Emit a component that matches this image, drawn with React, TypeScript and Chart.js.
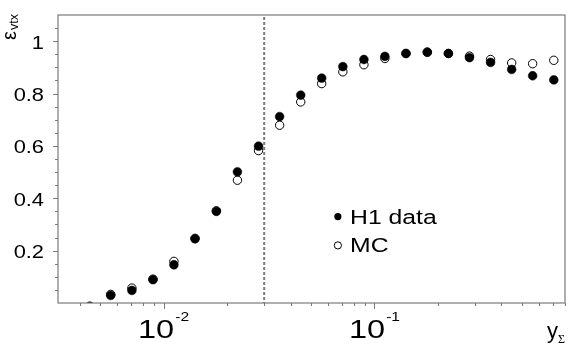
import React, { useEffect, useRef } from "react";
import { Chart, registerables } from "chart.js";

Chart.register(...registerables);

// y_Sigma bin centres
const ySigma = [
  0.00447, 0.00562, 0.00708, 0.00891, 0.0112, 0.0141, 0.0178, 0.0224, 0.0282,
  0.0355, 0.0447, 0.0562, 0.0708, 0.0891, 0.112, 0.141, 0.178, 0.224, 0.282,
  0.355, 0.447, 0.562, 0.708,
];
// vertex efficiency, H1 data
const h1Eff = [
  -0.012, 0.029, 0.048, 0.089, 0.146, 0.245, 0.35, 0.501, 0.599, 0.712, 0.794,
  0.859, 0.903, 0.93, 0.942, 0.953, 0.958, 0.953, 0.937, 0.919, 0.892, 0.868,
  0.852,
];
// vertex efficiency, MC
const mcEff = [
  null, 0.033, 0.057, 0.091, 0.159, 0.247, 0.352, 0.469, 0.582, 0.679, 0.768,
  0.838, 0.883, 0.91, 0.934, 0.953, 0.958, 0.953, 0.943, 0.93, 0.917, 0.914,
  0.927,
];

const yTickValues = [0.2, 0.4, 0.6, 0.8, 1];
const yTickLabels = ["0.2", "0.4", "0.6", "0.8", "1"];
const xDecadeValues = [0.01, 0.1];
const xDecadeExponents = ["-2", "-1"];
const cutValue = 0.03;
const seriesNames = ["H1 data", "MC"];

const X_MIN = 0.00316;
const X_MAX = 0.8;
const Y_MIN = 0;
const Y_MAX = 1.1;

const SANS = '"Liberation Sans", Arial, Helvetica, sans-serif';
const SERIF = '"Liberation Serif", "Times New Roman", serif';
const FRAME = "#7a7a7a";

function stretchText(
  ctx: CanvasRenderingContext2D,
  text: string,
  x: number,
  y: number,
  align: CanvasTextAlign,
  sx: number
) {
  ctx.save();
  ctx.translate(x, y);
  ctx.scale(sx, 1);
  ctx.textAlign = align;
  ctx.textBaseline = "alphabetic";
  ctx.fillText(text, 0, 0);
  ctx.restore();
}

const decorPlugin = {
  id: "decor",
  beforeDatasetsDraw(chart: any) {
    const { ctx, chartArea: a, scales } = chart;
    const x = scales.x.getPixelForValue(cutValue);
    ctx.save();
    ctx.strokeStyle = "#7c7c7c";
    ctx.lineWidth = 2;
    ctx.setLineDash([3, 2]);
    ctx.beginPath();
    ctx.moveTo(x, a.top + 2);
    ctx.lineTo(x, a.bottom);
    ctx.stroke();
    ctx.restore();
  },
  afterDraw(chart: any) {
    const { ctx, chartArea: a, scales } = chart;
    const xs = scales.x;
    const ys = scales.y;
    ctx.save();
    // frame
    ctx.strokeStyle = FRAME;
    ctx.lineWidth = 1.2;
    ctx.strokeRect(a.left, a.top, a.right - a.left, a.bottom - a.top);

    // y ticks every 0.05
    ctx.lineWidth = 1;
    ctx.beginPath();
    for (let k = 1; k * 0.05 < Y_MAX; k++) {
      const v = k * 0.05;
      const py = Math.round(ys.getPixelForValue(v)) + 0.5;
      const major = yTickValues.some((t) => Math.abs(t - v) < 1e-6);
      const len = major ? 5 : 3;
      ctx.moveTo(a.left - len, py);
      ctx.lineTo(a.left, py);
    }
    // x ticks
    for (let d = 0.001; d < 10; d *= 10) {
      for (let m = 1; m <= 9; m++) {
        const v = m * d;
        if (v < X_MIN || v > X_MAX * 1.0001) continue;
        const px = Math.round(xs.getPixelForValue(v)) + 0.5;
        const len = m === 1 ? 6 : 3;
        ctx.moveTo(px, a.bottom);
        ctx.lineTo(px, a.bottom + len);
      }
    }
    ctx.stroke();

    ctx.fillStyle = "#000";
    // y tick labels
    ctx.font = `19px ${SANS}`;
    yTickValues.forEach((v, i) => {
      const py = ys.getPixelForValue(v);
      stretchText(ctx, yTickLabels[i], a.left - 14, py + 7.5, "right", 1.15);
    });

    // x decade labels 10^n
    const sx = 1.3;
    xDecadeValues.forEach((v, i) => {
      const px = xs.getPixelForValue(v);
      ctx.font = `25px ${SANS}`;
      const wBase = ctx.measureText("10").width * sx;
      ctx.font = `12px ${SANS}`;
      const wExp = ctx.measureText(xDecadeExponents[i]).width * sx;
      const start = px - (wBase + wExp + 1) / 2;
      ctx.font = `25px ${SANS}`;
      stretchText(ctx, "10", start, a.bottom + 35, "left", sx);
      ctx.font = `12px ${SANS}`;
      stretchText(ctx, xDecadeExponents[i], start + wBase + 1, a.bottom + 18, "left", sx);
    });

    // axis titles
    ctx.font = `22px ${SANS}`;
    ctx.textAlign = "left";
    ctx.fillText("y", a.right - 18, a.bottom + 35);
    ctx.font = `12px ${SERIF}`;
    ctx.fillText("\u03a3", a.right - 7, a.bottom + 40);

    ctx.save();
    ctx.translate(a.left - 42.5, a.top + 25);
    ctx.rotate(-Math.PI / 2);
    ctx.font = `20px ${SANS}`;
    ctx.textAlign = "left";
    ctx.fillText("\u03b5", 0, 0);
    const we = ctx.measureText("\u03b5").width;
    ctx.font = `12.5px ${SANS}`;
    ctx.fillText("vtx", we + 1, 2);
    ctx.restore();

    // legend
    const w = a.right - a.left;
    const h = a.bottom - a.top;
    const mx = a.left + 0.552 * w;
    const tx = a.left + 0.576 * w;
    const rows = [0.7, 0.8];
    ctx.font = `19.5px ${SANS}`;
    seriesNames.forEach((name, i) => {
      const cy = a.top + rows[i] * h;
      ctx.beginPath();
      ctx.arc(mx, cy, 3.6, 0, Math.PI * 2);
      if (i === 0) {
        ctx.fillStyle = "#000";
        ctx.fill();
      } else {
        ctx.fillStyle = "#fff";
        ctx.fill();
        ctx.strokeStyle = "#000";
        ctx.lineWidth = 1;
        ctx.stroke();
      }
      ctx.fillStyle = "#000";
      stretchText(ctx, name, tx, cy + 7, "left", 1.27);
    });
    ctx.restore();
  },
};

export default function App() {
  const ref = useRef<HTMLCanvasElement | null>(null);
  useEffect(() => {
    if (!ref.current) return;
    const chart = new Chart(ref.current, {
      type: "scatter",
      data: {
        datasets: [
          {
            label: seriesNames[0],
            data: ySigma.map((x, i) => ({ x, y: h1Eff[i] })),
            pointRadius: 4.4,
            pointBackgroundColor: "#000",
            pointBorderColor: "#000",
            pointBorderWidth: 0.5,
            clip: 0,
          },
          {
            label: seriesNames[1],
            data: ySigma.map((x, i) => ({ x, y: mcEff[i] })),
            pointRadius: 4.2,
            pointBackgroundColor: "#fff",
            pointBorderColor: "#000",
            pointBorderWidth: 1,
            clip: 0,
          },
        ],
      },
      options: {
        animation: false,
        responsive: false,
        devicePixelRatio: 1,
        events: [],
        layout: { padding: { left: 58, top: 15, right: 16, bottom: 46 } },
        plugins: { legend: { display: false }, tooltip: { enabled: false } },
        scales: {
          x: { type: "logarithmic", min: X_MIN, max: X_MAX, display: false },
          y: { type: "linear", min: Y_MIN, max: Y_MAX, display: false },
        },
      },
      plugins: [decorPlugin],
    });
    return () => chart.destroy();
  }, []);
  return (
    <div style={{ position: "fixed", left: 0, top: 0, width: 581, height: 349, background: "#fff" }}>
      <canvas ref={ref} width={581} height={349} style={{ display: "block" }} />
    </div>
  );
}
